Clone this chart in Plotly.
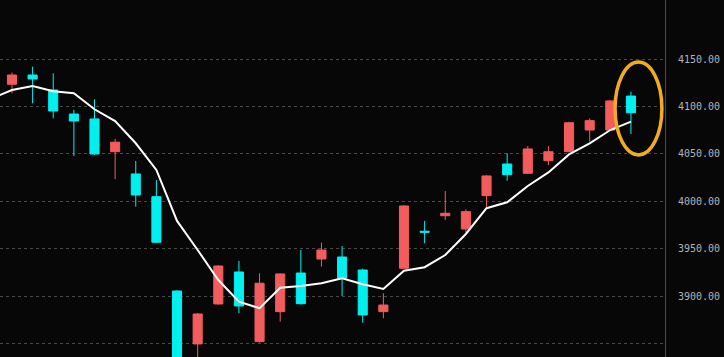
import plotly.graph_objects as go

idx = list(range(31))
opens = [4123.6, 4133.4, 4117.6, 4092.2, 4087.0, 4052.4, 4028.9, 4004.9, 3905.3, 3849.4,
         3891.6, 3925.4, 3851.8, 3883.5, 3924.3, 3939.1, 3941.2, 3927.5, 3883.5, 3929.3,
         3968.4, 3984.8, 3970.8, 4006.0, 4039.4, 4029.6, 4042.9, 4052.4, 4075.3, 4075.3, 4111.2]
highs = [4135.9, 4142.2, 4135.2, 4096.5, 4107.8, 4065.8, 4042.6, 4022.5, 3906.0, 3882.0,
         3932.5, 3937.0, 3924.0, 3924.0, 3948.6, 3956.3, 3952.8, 3929.0, 3902.9, 3996.0,
         3979.3, 4010.9, 3991.6, 4027.5, 4050.7, 4058.4, 4058.4, 4084.0, 4087.7, 4107.0, 4115.8]
lows = [4114.1, 4103.5, 4087.7, 4047.9, 4049.0, 4023.3, 3994.4, 3956.0, 3815.0, 3825.0,
        3891.0, 3881.8, 3851.0, 3872.9, 3891.0, 3931.0, 3900.0, 3871.9, 3876.5, 3929.0,
        3955.7, 3980.3, 3966.9, 3992.7, 4021.8, 4029.0, 4038.4, 4052.0, 4063.0, 4075.0, 4071.1]
closes = [4133.4, 4129.2, 4095.4, 4084.8, 4050.0, 4062.4, 4006.7, 3956.8, 3820.0, 3881.0,
          3931.7, 3889.5, 3913.5, 3923.3, 3891.9, 3948.6, 3918.7, 3880.0, 3890.5, 3995.1,
          3967.4, 3987.4, 3989.1, 4026.8, 4028.1, 4055.3, 4052.4, 4083.0, 4085.2, 4106.0, 4093.6]

ma_idx = list(range(-1, 31))
ma_vals = [4108.5, 4117.6, 4121.8, 4116.2, 4114.1, 4097.2, 4084.8, 4061.3, 4033.1, 3979.3, 3948.6,
           3916.9, 3894.0, 3887.1, 3908.8, 3910.6, 3913.5, 3918.7, 3912.4, 3907.4, 3926.8,
           3930.4, 3943.3, 3965.5, 3992.7, 3999.0, 4016.2, 4030.5, 4049.5, 4061.3, 4075.3, 4084.1]

tick_vals = [3850, 3900, 3950, 4000, 4050, 4100, 4150]
tick_text = ["", "3900.00", "3950.00", "4000.00", "4050.00", "4100.00", "4150.00"]

RED = "#f25c5c"
CYAN = "#00f0f0"

fig = go.Figure()
fig.add_trace(go.Candlestick(
    x=idx, open=opens, high=highs, low=lows, close=closes,
    increasing=dict(line=dict(color=RED, width=1), fillcolor=RED),
    decreasing=dict(line=dict(color=CYAN, width=1), fillcolor=CYAN),
    whiskerwidth=0, showlegend=False, hoverinfo="skip",
))
fig.add_trace(go.Scatter(
    x=ma_idx, y=ma_vals, mode="lines",
    line=dict(color="#ffffff", width=2), showlegend=False, hoverinfo="skip",
))

fig.add_shape(type="circle", xref="x", yref="y",
              x0=29.23, x1=31.5, y0=4049, y1=4147,
              line=dict(color="#f2ad1f", width=3.5))

fig.update_layout(
    width=724, height=357,
    margin=dict(l=0, r=59, t=0, b=0),
    paper_bgcolor="#070707", plot_bgcolor="#070707",
    boxgap=0.37,
    xaxis=dict(range=[-0.58, 31.65], showgrid=False, zeroline=False,
               showticklabels=False, rangeslider=dict(visible=False),
               fixedrange=True),
    yaxis=dict(range=[3835.6, 4212.6], side="right", tickvals=tick_vals,
               ticktext=tick_text, showgrid=True, gridcolor="#4a4a4a",
               griddash="dot", gridwidth=1, zeroline=False,
               showline=True, linecolor="#4a4a4a", linewidth=1,
               ticks="outside", ticklen=10, tickcolor="rgba(0,0,0,0)",
               tickfont=dict(family="DejaVu Sans Mono", size=10, color="#b4b4b4"),
               fixedrange=True),
)

fig.write_html("out.html")
